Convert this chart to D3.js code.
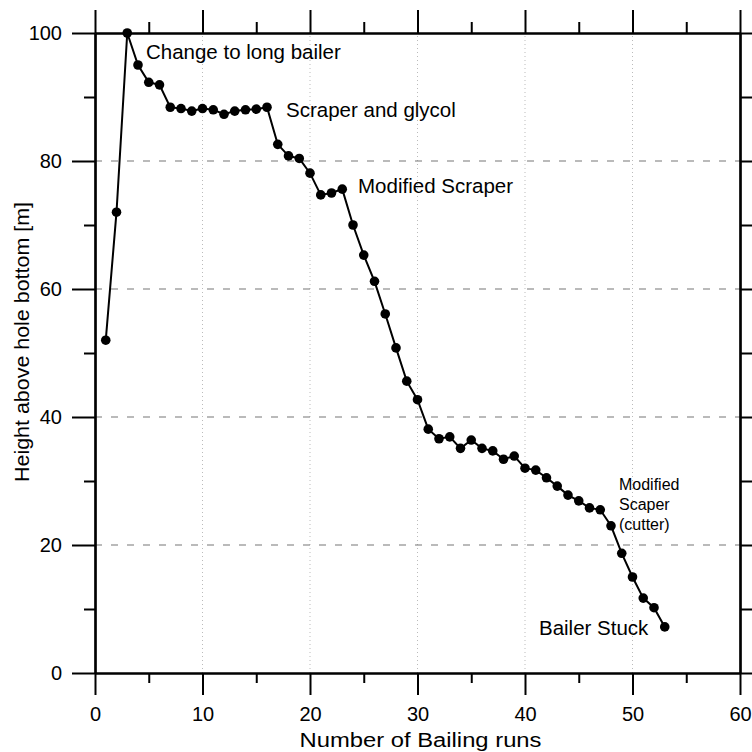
<!DOCTYPE html>
<html>
<head>
<meta charset="utf-8">
<script src="https://cdn.jsdelivr.net/npm/d3@7"></script>
<style>
  body { margin: 0; background: #fff; }
  #chart { width: 752px; height: 752px; }
  text { font-family: Arial, "Liberation Sans", sans-serif; fill: #000; }
</style>
</head>
<body>
<div id="chart"></div>
<script>
// bailing runs (x) and height above hole bottom in m (y)
var runs = [1, 2, 3, 4, 5, 6, 7, 8, 9, 10, 11, 12, 13, 14, 15, 16, 17, 18, 19, 20,
    21, 22, 23, 24, 25, 26, 27, 28, 29, 30, 31, 32, 33, 34, 35, 36, 37, 38, 39, 40,
    41, 42, 43, 44, 45, 46, 47, 48, 49, 50, 51, 52, 53];
var heights = [52, 72, 100, 95, 92.3, 91.9, 88.4, 88.2, 87.8, 88.2, 88, 87.3, 87.8, 88, 88.1, 88.4, 82.6, 80.8, 80.4, 78.1,
    74.7, 75, 75.6, 70, 65.3, 61.2, 56.1, 50.8, 45.6, 42.7, 38.1, 36.6, 36.9, 35.1, 36.4, 35.1, 34.7, 33.4, 33.9, 32,
    31.7, 30.5, 29.2, 27.8, 26.9, 25.8, 25.5, 23, 18.7, 15, 11.7, 10.2, 7.2];

var xMajor = [0, 10, 20, 30, 40, 50, 60];
var xMinor = [5, 15, 25, 35, 45, 55];
var yMajor = [0, 20, 40, 60, 80, 100];
var yMinor = [10, 30, 50, 70, 90];
var xGrid = [10, 20, 30, 40, 50];
var yGrid = [20, 40, 60, 80];

// notes anchored in data units
var noteText = ["Change to long bailer", "Scraper and glycol", "Modified Scraper", "Modified\nScaper\n(cutter)", "Bailer Stuck"];
var noteX = [4.74, 17.77, 24.47, 48.74, 41.3];
var noteY = [95.9, 86.9, 75.0, 28.6, 5.94];

var width = 752, height = 752;
var margin = { top: 33, right: 12, bottom: 79, left: 95 };

var svg = d3.select("#chart").append("svg")
    .attr("width", width)
    .attr("height", height);

var x = d3.scaleLinear().domain([0, 60]).range([margin.left, width - margin.right]);
var y = d3.scaleLinear().domain([0, 100]).range([height - margin.bottom, margin.top]);

var data = runs.map((r, i) => ({ run: r, h: heights[i] }));

// grid
svg.append("g").selectAll("line").data(xGrid).join("line")
    .attr("x1", d => x(d)).attr("x2", d => x(d))
    .attr("y1", y(0)).attr("y2", y(100))
    .attr("stroke", "#bbb").attr("stroke-width", 1)
    .attr("stroke-dasharray", "1,3");

svg.append("g").selectAll("line").data(yGrid).join("line")
    .attr("x1", x(0)).attr("x2", x(60))
    .attr("y1", d => y(d)).attr("y2", d => y(d))
    .attr("stroke", "#777").attr("stroke-width", 1.2)
    .attr("stroke-dasharray", "7,9");

// axes
function styleAxis(g) {
    g.selectAll("path.domain").attr("stroke", "#000").attr("stroke-width", 2.2);
    g.selectAll(".tick line").attr("stroke", "#000").attr("stroke-width", 2);
    g.selectAll(".tick text").style("font-size", "20px").attr("fill", "#000").attr("font-family", null);
}

svg.append("g").attr("transform", `translate(0,${y(0)})`)
    .call(d3.axisBottom(x).tickValues(xMinor).tickSize(10).tickSizeOuter(0).tickFormat(""))
    .call(styleAxis);
svg.append("g").attr("transform", `translate(0,${y(0)})`)
    .call(d3.axisBottom(x).tickValues(xMajor).tickSize(22).tickSizeOuter(0).tickPadding(12).tickFormat(d3.format("d")))
    .call(styleAxis);

svg.append("g").attr("transform", `translate(0,${y(100)})`)
    .call(d3.axisTop(x).tickValues(xMinor).tickSize(11).tickSizeOuter(0).tickFormat(""))
    .call(styleAxis);
svg.append("g").attr("transform", `translate(0,${y(100)})`)
    .call(d3.axisTop(x).tickValues(xMajor).tickSize(23).tickSizeOuter(0).tickFormat(""))
    .call(styleAxis);

svg.append("g").attr("transform", `translate(${x(0)},0)`)
    .call(d3.axisLeft(y).tickValues(yMinor).tickSize(11).tickSizeOuter(0).tickFormat(""))
    .call(styleAxis);
svg.append("g").attr("transform", `translate(${x(0)},0)`)
    .call(d3.axisLeft(y).tickValues(yMajor).tickSize(23).tickSizeOuter(0).tickPadding(10).tickFormat(d3.format("d")))
    .call(styleAxis);

svg.append("g").attr("transform", `translate(${x(60)},0)`)
    .call(d3.axisRight(y).tickValues(yMinor).tickSize(14).tickSizeOuter(0).tickFormat(""))
    .call(styleAxis);
svg.append("g").attr("transform", `translate(${x(60)},0)`)
    .call(d3.axisRight(y).tickValues(yMajor).tickSize(14).tickSizeOuter(0).tickFormat(""))
    .call(styleAxis);

// line + markers
var line = d3.line().x(d => x(d.run)).y(d => y(d.h));

svg.append("path")
    .datum(data)
    .attr("fill", "none")
    .attr("stroke", "#000")
    .attr("stroke-width", 2)
    .attr("d", line);

svg.append("g").selectAll("circle").data(data).join("circle")
    .attr("cx", d => x(d.run))
    .attr("cy", d => y(d.h))
    .attr("r", 4.8)
    .attr("fill", "#000");

// annotations
noteText.forEach((t, i) => {
    var lines = t.split("\n");
    var small = lines.length > 1;
    var txt = svg.append("text")
        .attr("x", x(noteX[i]))
        .attr("y", y(noteY[i]))
        .style("font-size", small ? "16px" : "20.5px");
    lines.forEach((l, j) => {
        txt.append("tspan")
            .attr("x", x(noteX[i]))
            .attr("dy", j === 0 ? 0 : 20)
            .text(l);
    });
});

// axis titles
svg.append("text")
    .attr("x", (x(0) + x(60)) / 2 + 3)
    .attr("y", 747)
    .attr("text-anchor", "middle")
    .attr("textLength", 242)
    .attr("lengthAdjust", "spacingAndGlyphs")
    .style("font-size", "20px")
    .text("Number of Bailing runs");

svg.append("text")
    .attr("transform", `translate(29,${(y(0) + y(100)) / 2 - 11}) rotate(-90)`)
    .attr("text-anchor", "middle")
    .attr("textLength", 280)
    .attr("lengthAdjust", "spacingAndGlyphs")
    .style("font-size", "21px")
    .text("Height above hole bottom [m]");
</script>
</body>
</html>
